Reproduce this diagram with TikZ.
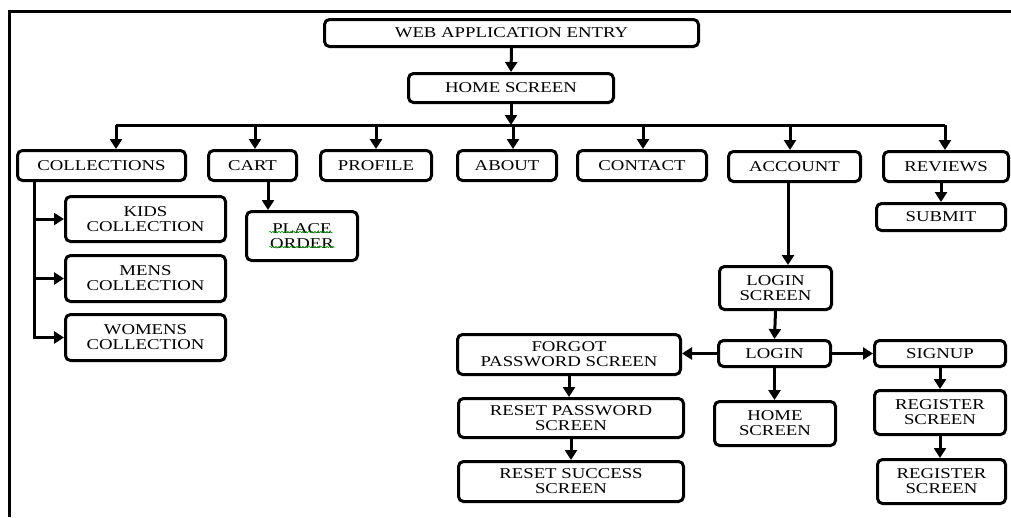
\documentclass[tikz,border=0pt]{standalone}
\usepackage{fontspec}
\setmainfont[FakeStretch=1.25]{Liberation Serif}
\usetikzlibrary{positioning,calc,arrows.meta,decorations.pathmorphing}

\begin{document}
\begin{tikzpicture}[x=1pt, y=-1pt,
  box/.style={draw, line width=3pt, rounded corners=5pt, align=center,
    inner sep=0pt, font=\fontsize{15}{15}\selectfont},
  arr/.style={line width=3pt, -{Triangle[length=10pt,width=12pt]}},
  link/.style={line width=3pt},
  squig/.style={green!60!black, line width=0.5pt, decorate,
    decoration={snake, amplitude=0.8pt, segment length=3pt}}]

  \useasboundingbox (0,0) rectangle (1011,517);

  % === Cadre ===
  \draw[line width=3pt] (9,517) |- (1011,11);

  % === Entrée et accueil ===
  \node[box, minimum width=374pt, minimum height=27pt] (entry) at (511.5,33) {WEB APPLICATION ENTRY};
  \node[box, minimum width=205pt, minimum height=29pt] (home) at (511,88) {HOME SCREEN};

  % === Menu principal ===
  \node[box, minimum width=168pt, minimum height=30pt] (coll) at (101.5,165.5) {COLLECTIONS};
  \node[box, minimum width=88pt, minimum height=30pt] (cart) at (252.5,165.5) {CART};
  \node[box, minimum width=111pt, minimum height=30pt] (prof) at (376,165.5) {PROFILE};
  \node[box, minimum width=99pt, minimum height=30pt] (about) at (507,165.5) {ABOUT};
  \node[box, minimum width=129pt, minimum height=30pt] (contact) at (642,165.5) {CONTACT};
  \node[box, minimum width=132pt, minimum height=30pt] (account) at (794.5,166.5) {ACCOUNT};
  \node[box, minimum width=125pt, minimum height=30pt] (reviews) at (946,166.5) {REVIEWS};

  % === Sous-pages ===
  \node[box, minimum width=160pt, minimum height=45pt] (kids) at (145.5,219) {KIDS\\COLLECTION};
  \node[box, minimum width=160pt, minimum height=46pt] (mens) at (145.5,278.5) {MENS\\COLLECTION};
  \node[box, minimum width=160pt, minimum height=46pt] (womens) at (145.5,337.5) {WOMENS\\COLLECTION};
  \node[box, minimum width=111pt, minimum height=49pt] (place) at (302,236) {PLACE\\ORDER};
  \node[box, minimum width=129pt, minimum height=27pt] (submit) at (941,217) {SUBMIT};

  % === Compte ===
  \node[box, minimum width=112pt, minimum height=43pt] (loginscr) at (775.5,288) {LOGIN\\SCREEN};
  \node[box, minimum width=112pt, minimum height=26pt] (login) at (774.5,353.5) {LOGIN};
  \node[box, minimum width=223pt, minimum height=40pt] (forgot) at (569,354.5) {FORGOT\\PASSWORD SCREEN};
  \node[box, minimum width=121pt, minimum height=44pt] (homescr) at (775,423.5) {HOME\\SCREEN};
  \node[box, minimum width=131pt, minimum height=26pt] (signup) at (940,353.5) {SIGNUP};
  \node[box, minimum width=225pt, minimum height=39pt] (resetpw) at (571,418) {RESET PASSWORD\\SCREEN};
  \node[box, minimum width=225pt, minimum height=40pt] (resetok) at (571,481.5) {RESET SUCCESS\\SCREEN};
  \node[box, minimum width=131pt, minimum height=44pt] (reg1) at (940,412.5) {REGISTER\\SCREEN};
  \node[box, minimum width=128pt, minimum height=44pt] (reg2) at (941.5,481.5) {REGISTER\\SCREEN};

  % === Soulignement du correcteur ===
  \draw[squig] ($(place.center)+(-33,-4)$) -- ++(64,0);
  \draw[squig] ($(place.center)+(-33,11)$) -- ++(66,0);

  % === Bus du menu ===
  \coordinate (bus) at (513,125);
  \coordinate (busL) at (116,125);
  \coordinate (busR) at (945,125);
  \draw[arr] (entry.south) -- (home.north);
  \draw[arr] (home.south) -- (home.south |- bus);
  \draw[link] (busL) -- (busR);
  \foreach \n/\dx in {coll/14.5, cart/2.5, prof/0, about/6, contact/1, account/-4.5, reviews/-1} {
    \path ([xshift=\dx pt]\n.north) coordinate (t);
    \draw[arr] (t |- bus) -- (t);
  }

  % === Collections ===
  \path ([xshift=18pt]coll.south west) coordinate (cv);
  \draw[link] (cv) -- (cv |- kids.west);
  \draw[arr] (cv |- kids.west) -- (kids.west);
  \draw[arr] (cv |- mens.west) -- (mens.west);
  \draw[arr] (cv) |- (womens.west);

  % === Panier, avis ===
  \path ([xshift=15.5pt]cart.south) coordinate (cs);
  \draw[arr] (cs) -- (cs |- place.north);
  \draw[arr] (submit.north |- reviews.south) -- (submit.north);

  % === Connexion ===
  \path ([xshift=-6.5pt]account.south) coordinate (as);
  \draw[arr] (as) -- (as |- loginscr.north);
  \draw[arr] (loginscr.south) -- (login.north);
  \draw[arr] (login.west) -- (login.west -| forgot.east);
  \draw[arr] (login.east) -- (login.east -| signup.west);
  \draw[arr] (login.south) -- (login.south |- homescr.north);
  \draw[arr] (forgot.south) -- (forgot.south |- resetpw.north);
  \draw[arr] (resetpw.south) -- (resetok.north);
  \draw[arr] (signup.south) -- (reg1.north);
  \draw[arr] (reg1.south) -- (reg1.south |- reg2.north);

\end{tikzpicture}
\end{document}
